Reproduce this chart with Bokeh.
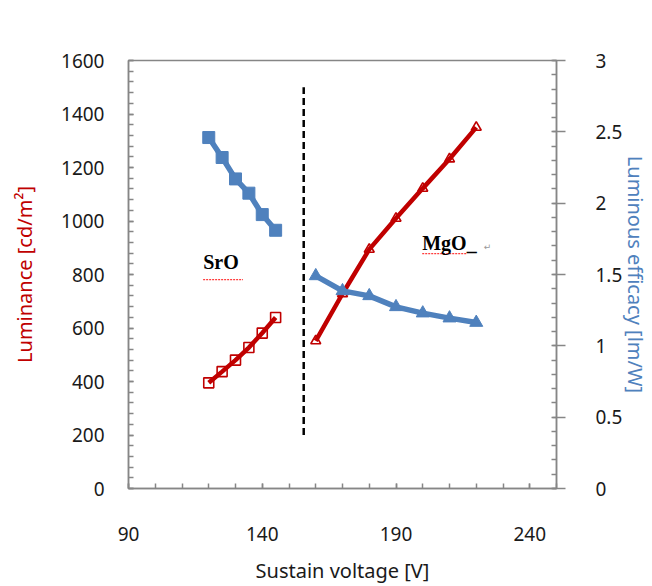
from bokeh.plotting import figure
from bokeh.models import (LinearAxis, Range1d, Label, FixedTicker, SingleIntervalTicker,
                          CustomJSTickFormatter)
from bokeh.embed import file_html
from bokeh.resources import INLINE

# ---------------- data ----------------
sro_voltage = [120, 125, 130, 135, 140, 145]
sro_luminance = [395, 437, 480, 527, 581, 639]
sro_efficacy = [2.46, 2.32, 2.17, 2.07, 1.92, 1.81]

mgo_voltage = [160, 170, 180, 190, 200, 210, 220]
mgo_luminance = [552, 728, 894, 1010, 1122, 1232, 1350]
mgo_efficacy = [1.49, 1.385, 1.35, 1.273, 1.229, 1.194, 1.163]

divider_x = [155.5, 155.5]
divider_y = [200, 1500]

x_major_ticks = [90, 140, 190, 240]
x_minor_ticks = list(range(90, 251, 10))

title_text = "Xe10% 400torr"
x_label = "Sustain voltage [V]"
y_label = "Luminance [cd/m\u00b2]"
y2_label = "Luminous efficacy [lm/W]"

RED = "#C00000"
BLUE = "#4F81BD"
AXIS_GRAY = "#868686"
TEXT = "#1a1a1a"
TICK_FONT = "Noto Sans"

p = figure(width=652, height=586, output_backend="svg", toolbar_location=None,
           x_range=Range1d(90, 250), y_range=Range1d(0, 1600),
           min_border_left=128, min_border_right=95, min_border_top=60,
           min_border_bottom=98)
p.xgrid.visible = False
p.ygrid.visible = False
p.outline_line_color = AXIS_GRAY
p.outline_line_width = 1.5
p.background_fill_color = "white"
p.border_fill_color = "white"

p.extra_y_ranges = {"eff": Range1d(0, 3)}


def style_axis(ax, label_color, tick_in, tick_out, lab_standoff, axlab_standoff):
    ax.axis_label_text_font = TICK_FONT
    ax.axis_label_text_font_style = "normal"
    ax.axis_label_text_font_size = "20px"
    ax.axis_label_text_color = label_color
    ax.axis_label_standoff = axlab_standoff
    ax.major_label_text_font = TICK_FONT
    ax.major_label_text_font_size = "19px"
    ax.major_label_text_color = TEXT
    ax.major_label_standoff = lab_standoff
    ax.major_tick_in = tick_in
    ax.major_tick_out = tick_out
    ax.minor_tick_in = 5
    ax.minor_tick_out = 0
    ax.axis_line_color = AXIS_GRAY
    ax.major_tick_line_color = AXIS_GRAY
    ax.minor_tick_line_color = AXIS_GRAY
    ax.axis_line_width = 1.5
    ax.major_tick_line_width = 1.5
    ax.minor_tick_line_width = 1.5


# x axis
xa = p.xaxis[0]
xa.ticker = FixedTicker(ticks=x_major_ticks, minor_ticks=x_minor_ticks)
xa.axis_label = x_label
style_axis(xa, TEXT, 5, 0, 38, 13)

# left axis
ya = p.yaxis[0]
ya.ticker = SingleIntervalTicker(interval=200, num_minor_ticks=5)
ya.axis_label = y_label
style_axis(ya, RED, 5, 0, 24, 20)

# right axis
ra = LinearAxis(y_range_name="eff",
                ticker=SingleIntervalTicker(interval=0.5, num_minor_ticks=5),
                formatter=CustomJSTickFormatter(code="return String(Math.round(tick*10)/10);"))
ra.axis_label = y2_label
style_axis(ra, BLUE, 4, 9, 30, -3)
p.add_layout(ra, "right")

# divider
p.line(divider_x, divider_y, line_color="black", line_width=2.5, line_dash="7 4")

# SrO series
p.line(sro_voltage, sro_efficacy, y_range_name="eff", line_color=BLUE, line_width=5.5)
p.scatter(sro_voltage, sro_efficacy, y_range_name="eff", marker="square", size=12,
          fill_color=BLUE, line_color=BLUE)
p.line(sro_voltage, sro_luminance, line_color=RED, line_width=4.5)
p.scatter(sro_voltage, sro_luminance, marker="square", size=10, fill_alpha=0,
          line_color=RED, line_width=1.6)

# MgO series
p.line(mgo_voltage, mgo_luminance, line_color=RED, line_width=4.5)
p.scatter(mgo_voltage, mgo_luminance, marker="triangle", size=10, fill_alpha=0,
          line_color=RED, line_width=1.6)
p.line(mgo_voltage, mgo_efficacy, y_range_name="eff", line_color=BLUE, line_width=5.5)
p.scatter(mgo_voltage, mgo_efficacy, y_range_name="eff", marker="triangle", size=13,
          fill_color=BLUE, line_color=BLUE)

# annotations
sro_label_pos = (117.9, 845)
mgo_label_pos = (199.8, 916)
p.add_layout(Label(x=sro_label_pos[0], y=sro_label_pos[1], text="SrO",
                   text_font="Liberation Serif", text_font_style="bold",
                   text_font_size="20px", text_baseline="middle", text_color="black"))
p.add_layout(Label(x=mgo_label_pos[0], y=mgo_label_pos[1], text="MgO_",
                   text_font="Liberation Serif", text_font_style="bold",
                   text_font_size="20px", text_baseline="middle", text_color="black"))
p.add_layout(Label(x=222.8, y=902, text="\u21b5", text_font="DejaVu Sans",
                   text_font_size="9px", text_baseline="middle", text_color="#999999"))

# spell-check underlines
p.segment(x0=[117.9, 199.8], y0=[781, 878], x1=[132.8, 216.5], y1=[781, 878],
          line_color="#ff3b3b", line_width=1.2, line_dash="2 1")

# title text
p.add_layout(Label(x=179.3, y=1725, text=title_text, text_font=TICK_FONT,
                   text_font_size="17.5px", text_baseline="middle", text_color=TEXT))
p.add_layout(Label(x=231.4, y=1708, text="\u21b5", text_font="DejaVu Sans",
                   text_font_size="9px", text_baseline="middle", text_color="#999999"))

open("out.html", "w").write(file_html(p, INLINE))
